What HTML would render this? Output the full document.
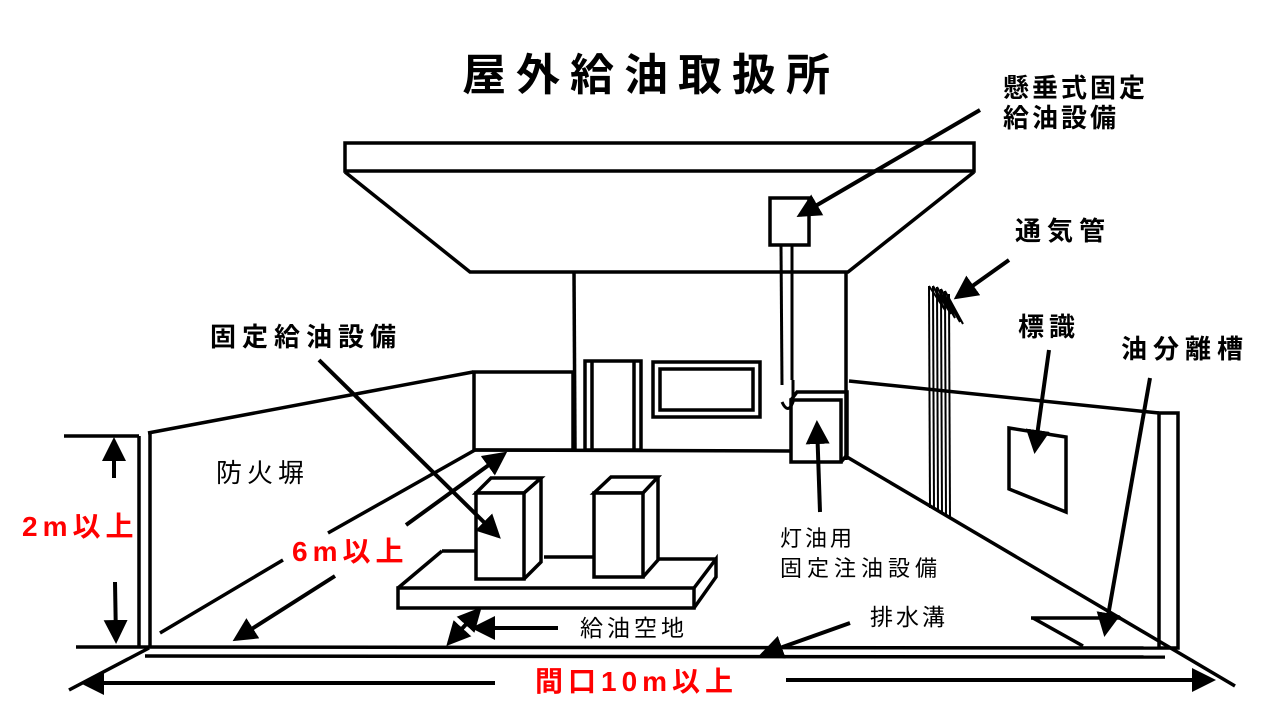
<!DOCTYPE html>
<html><head><meta charset="utf-8"><style>
html,body{margin:0;padding:0;background:#fff;}
svg{display:block;}
text{font-family:"Liberation Sans","Noto Sans CJK JP",sans-serif;}
</style></head><body>
<svg width="1280" height="720" viewBox="0 0 1280 720" xmlns="http://www.w3.org/2000/svg">
<defs>
<marker id="ah" markerWidth="6" markerHeight="6" refX="5" refY="3" orient="auto" markerUnits="strokeWidth">
<path d="M0,0 L6,3 L0,6 z" fill="#000"/></marker>
<marker id="ahs" markerWidth="6" markerHeight="6" refX="1" refY="3" orient="auto" markerUnits="strokeWidth">
<path d="M6,0 L0,3 L6,6 z" fill="#000"/></marker>
</defs>
<g fill="none" stroke="#000" stroke-width="3.5" stroke-linejoin="miter">
<rect x="345" y="143" width="629" height="28"/>
<polyline points="345,172 470,272 848,272 974,172"/>
<line x1="574" y1="272" x2="575" y2="450"/>
<line x1="846" y1="272" x2="846" y2="460"/>
<rect x="474" y="372" width="99" height="78"/>
<rect x="585" y="361" width="56" height="89"/>
<line x1="592" y1="361" x2="592" y2="450"/>
<line x1="634" y1="361" x2="634" y2="450"/>
<rect x="653" y="362" width="107" height="55"/>
<rect x="660" y="369" width="93" height="41"/>
<line x1="474" y1="450" x2="791" y2="451"/>
<rect x="770" y="198" width="39" height="47"/>
<line x1="781" y1="245" x2="782" y2="385" stroke-width="3"/>
<line x1="792" y1="245" x2="792" y2="380" stroke-width="3"/>
<path d="M793,380 L793,402 Q788,415 782,402" stroke-width="3"/>
<rect x="791" y="400" width="50" height="62"/>
<polyline points="791,400 797,392 847,392 847,455 841,462"/>
<line x1="148" y1="433" x2="473" y2="372"/>
<line x1="139" y1="436" x2="139" y2="646"/>
<line x1="150" y1="433" x2="150" y2="648"/>
<line x1="64" y1="436" x2="139" y2="436"/>
<line x1="76" y1="647" x2="1159" y2="648"/>
<line x1="145" y1="656" x2="1165" y2="657"/>
<line x1="149" y1="648" x2="69" y2="690"/>
<line x1="475" y1="450" x2="328" y2="533"/>
<line x1="283" y1="560" x2="160" y2="633"/>
<line x1="849" y1="381" x2="1159" y2="413"/>
<polyline points="1159,648 1159,413 1178,413 1178,648 1159,648"/>
<line x1="847" y1="457" x2="1235" y2="686"/>
<g stroke-width="2">
<line x1="929" y1="286" x2="930" y2="508"/>
<line x1="933" y1="286" x2="934" y2="510"/>
<line x1="937" y1="287" x2="938" y2="512"/>
<line x1="941" y1="289" x2="942" y2="514"/>
<line x1="945" y1="291" x2="946" y2="516"/>
<line x1="949" y1="294" x2="950" y2="518"/>
<polyline points="929,286 945,310 933,286 951,314 937,287 955,318 941,289 960,322 945,291 963,324"/>
</g>
<polygon points="1009,428 1066,437 1066,512 1009,489"/>
<line x1="1031" y1="618" x2="1121" y2="618"/>
<line x1="1033" y1="618" x2="1083" y2="646"/>
<polygon points="476,493 491,478 541,478 524,493" fill="#fff"/>
<rect x="476" y="493" width="48" height="86" fill="#fff"/>
<polyline points="541,478 541,562 524,579"/>
<line x1="524" y1="493" x2="541" y2="478"/>
<polygon points="594,493 611,477 658,477 643,493" fill="#fff"/>
<rect x="594" y="493" width="49" height="84" fill="#fff"/>
<polyline points="658,477 658,560 643,577"/>
<rect x="398" y="588" width="296" height="20"/>
<line x1="398" y1="588" x2="442" y2="551"/>
<line x1="442" y1="551" x2="476" y2="551"/>
<line x1="544" y1="557" x2="594" y2="557"/>
<line x1="658" y1="559" x2="716" y2="559"/>
<polyline points="694,588 716,559 716,577 694,608"/>
</g>
<g stroke="#000" stroke-width="4" fill="none">
<line x1="980" y1="110" x2="800" y2="215" marker-end="url(#ah)"/>
<line x1="1009" y1="260" x2="957" y2="297" marker-end="url(#ah)"/>
<line x1="1049" y1="350" x2="1035" y2="450" marker-end="url(#ah)"/>
<line x1="1150" y1="378" x2="1105" y2="633" marker-end="url(#ah)"/>
<line x1="850" y1="623" x2="763" y2="654" marker-end="url(#ah)"/>
<line x1="820" y1="512" x2="817" y2="424" marker-end="url(#ah)"/>
<line x1="319" y1="360" x2="498" y2="536" marker-end="url(#ah)"/>
<line x1="406" y1="525" x2="504" y2="454" marker-end="url(#ah)"/>
<line x1="335" y1="576" x2="236" y2="639" marker-end="url(#ah)"/>
<line x1="114" y1="478" x2="114" y2="441" marker-end="url(#ah)"/>
<line x1="115" y1="582" x2="116" y2="640" marker-end="url(#ah)"/>
<line x1="479" y1="610" x2="449" y2="643" marker-start="url(#ahs)" marker-end="url(#ah)"/>
<line x1="558" y1="628" x2="475" y2="628" marker-end="url(#ah)"/>
<line x1="495" y1="683" x2="84" y2="683" marker-end="url(#ah)"/>
<line x1="786" y1="680" x2="1212" y2="680" marker-end="url(#ah)"/>
</g>
<text x="462" y="90" font-size="44" font-weight="bold" letter-spacing="10">屋外給油取扱所</text>
<text x="1003" y="97" font-size="26" font-weight="bold" letter-spacing="3">懸垂式固定</text>
<text x="1003" y="127" font-size="26" font-weight="bold" letter-spacing="3">給油設備</text>
<text x="1015" y="240" font-size="26" font-weight="bold" letter-spacing="6">通気管</text>
<text x="1018" y="336" font-size="26" font-weight="bold" letter-spacing="5">標識</text>
<text x="1121" y="358" font-size="26" font-weight="bold" letter-spacing="6">油分離槽</text>
<text x="210" y="346" font-size="26" font-weight="bold" letter-spacing="6">固定給油設備</text>
<text x="216" y="482" font-size="26" letter-spacing="5">防火塀</text>
<text x="580" y="636" font-size="23" letter-spacing="4">給油空地</text>
<text x="870" y="625" font-size="23" letter-spacing="3">排水溝</text>
<text x="780" y="546" font-size="22" letter-spacing="3">灯油用</text>
<text x="780" y="576" font-size="22" letter-spacing="5">固定注油設備</text>
<text x="22" y="536" font-size="28" font-weight="bold" fill="#ff0000" letter-spacing="5">2m以上</text>
<text x="292" y="561" font-size="28" font-weight="bold" fill="#ff0000" letter-spacing="5">6m以上</text>
<text x="535" y="691" font-size="28" font-weight="bold" fill="#ff0000" letter-spacing="5">間口10m以上</text>
</svg>
</body></html>
